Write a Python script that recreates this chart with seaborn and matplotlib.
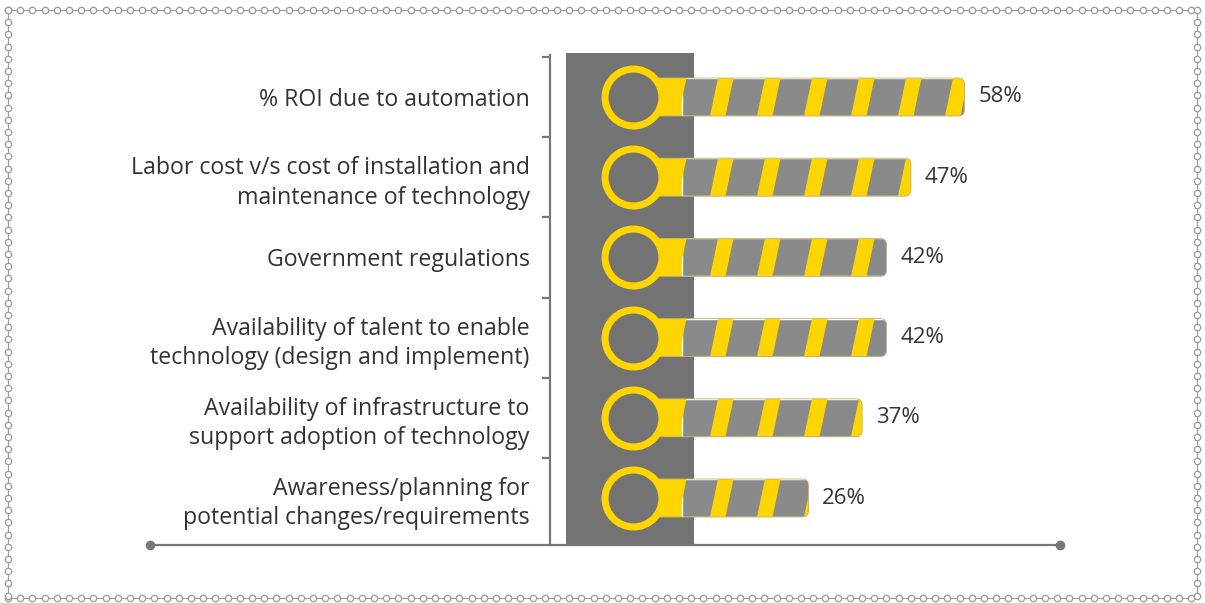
import numpy as np
import matplotlib.pyplot as plt
import seaborn as sns
from matplotlib.patches import FancyBboxPatch, Rectangle, Polygon
from matplotlib.collections import PatchCollection
from matplotlib.lines import Line2D

sns.set_theme(style="white")
plt.rcParams['font.family'] = ['Open Sans', 'DejaVu Sans']

# data
categories = [
    "% ROI due to automation",
    "Labor cost v/s cost of installation and\nmaintenance of technology",
    "Government regulations",
    "Availability of talent to enable\ntechnology (design and implement)",
    "Availability of infrastructure to\nsupport adoption of technology",
    "Awareness/planning for\npotential changes/requirements",
]
values = [58, 47, 42, 42, 37, 26]
value_labels = [f"{v}%" for v in values]

YELLOW = "#FFD500"
BAR_GRAY = "#8a8a8a"
DARK = "#737373"
LINE = "#777777"
TEXT = "#333333"

W, H = 1205, 603
fig = plt.figure(figsize=(W / 100, H / 100), dpi=100)

# axes placed in pixel terms
ax_l, ax_r, ax_t, ax_b = 550, 1060, 53, 545
ax = fig.add_axes([ax_l / W, 1 - ax_b / H, (ax_r - ax_l) / W, (ax_b - ax_t) / H])

px_per_pct = 4.875
px_per_row = 80.2
zero_px = 681.75
xlim = ((ax_l - zero_px) / px_per_pct, (ax_r - zero_px) / px_per_pct)
ylim = ((ax_b - 97) / px_per_row, (ax_t - 97) / px_per_row)

bar_h = 38 / px_per_row
sns.barplot(x=values, y=categories, orient="h", color=BAR_GRAY, width=bar_h,
            saturation=1, ax=ax, zorder=3)
bars = [p for p in ax.patches if isinstance(p, Rectangle)]
ax.set_xlim(*xlim)
ax.set_ylim(*ylim)

# dark column behind the rings
ax.axvspan((566 - zero_px) / px_per_pct, (694 - zero_px) / px_per_pct,
           color=DARK, zorder=1, lw=0)

ring_x = -10
period = 47 / px_per_pct
stripe_w = 15.5 / px_per_pct
slant = 8 / px_per_pct
phase = (663 - zero_px) / px_per_pct
aspect = px_per_pct / px_per_row

for patch in bars:
    x0, y0 = patch.get_x(), patch.get_y()
    w, h = patch.get_width(), patch.get_height()
    clip = FancyBboxPatch((ring_x, y0), w - ring_x, h,
                          boxstyle="round,pad=0,rounding_size=1.3",
                          mutation_aspect=aspect, transform=ax.transData)
    patch.set_clip_path(clip)

    neck = Rectangle((ring_x, y0), -ring_x + 0.5, h, color=YELLOW, zorder=2.5, lw=0)
    ax.add_patch(neck)
    neck.set_clip_path(clip)

    polys = []
    sx = phase
    while sx - slant < w:
        polys.append(Polygon([(sx, y0 + h), (sx + stripe_w, y0 + h),
                              (sx + stripe_w + slant, y0), (sx + slant, y0)]))
        sx += period
    pc = PatchCollection(polys, facecolor=YELLOW, edgecolor="none", zorder=4)
    ax.add_collection(pc)
    pc.set_clip_path(clip)

    # faint outline around the bar
    ax.add_patch(FancyBboxPatch((ring_x, y0), w - ring_x, h,
                                boxstyle="round,pad=0,rounding_size=1.3",
                                mutation_aspect=aspect, facecolor="none",
                                edgecolor="#c4b46a", lw=0.6, zorder=5))

# rings
ax.scatter([ring_x] * len(values), range(len(values)), s=41 ** 2,
           facecolor=DARK, edgecolor=YELLOW, linewidths=5.1, zorder=6)

# value labels
for i, (v, lab) in enumerate(zip(values, value_labels)):
    ax.text(v + 2.8, i, lab, va="center", ha="left", fontsize=16, color=TEXT)

# axis styling
for s in ["top", "right", "bottom"]:
    ax.spines[s].set_visible(False)
ax.spines["left"].set_color(LINE)
ax.spines["left"].set_linewidth(1.6)
ax.spines["left"].set_bounds(-0.52, ylim[0])
ax.set_xticks([])
ax.set_xlabel("")
ax.set_ylabel("")
ax.tick_params(axis="y", which="major", left=False, length=0, pad=14.5,
               labelsize=16.7, labelcolor=TEXT)
for lab in ax.get_yticklabels():
    lab.set_linespacing(1.3)
ax.set_yticks(np.arange(-0.5, len(values) - 0.5, 1.0), minor=True)
ax.tick_params(axis="y", which="minor", left=True, length=6, width=1.6,
               color=LINE, direction="out")

# horizontal base line with end dots
by = 1 - ax_b / H
fig.add_artist(Line2D([150 / W, 1060 / W], [by, by], color=LINE, lw=1.6))
fig.add_artist(Line2D([150 / W, 1060 / W], [by, by], color=LINE, lw=0,
                      marker="o", markersize=7, markeredgewidth=0))

# chain border
bl, br, bt, bb = 8, 1197, 10, 598
step = 12.2
xs = np.arange(bl, br + 0.1, step)
ys = np.arange(bt, bb + 0.1, step)
for px, py in [(xs, np.full_like(xs, bt)), (xs, np.full_like(xs, bb)),
               (np.full_like(ys, bl), ys), (np.full_like(ys, br), ys)]:
    fig.add_artist(Line2D(px / W, 1 - py / H, color="#999999", lw=0.8,
                          marker="o", markersize=4.6, markerfacecolor="white",
                          markeredgecolor="#999999", markeredgewidth=0.9))

fig.savefig("out.png", dpi=100, facecolor="white")
